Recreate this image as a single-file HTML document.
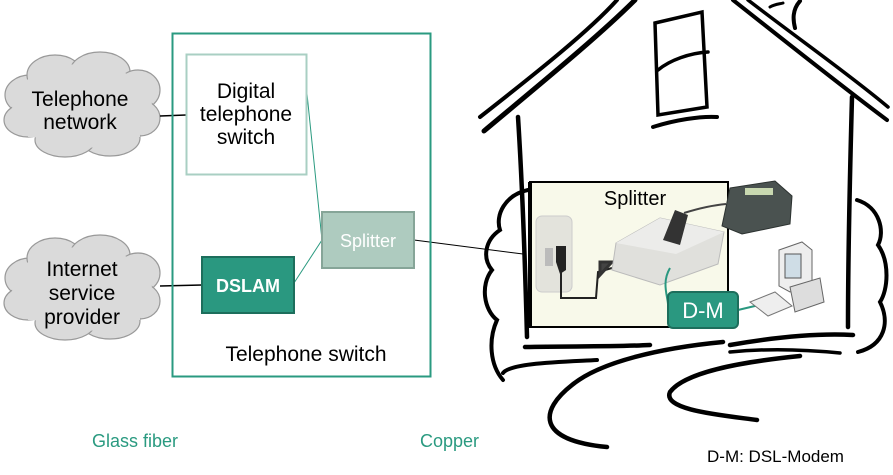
<!DOCTYPE html>
<html><head><meta charset="utf-8"><style>
html,body{margin:0;padding:0;background:#fff;}
svg{display:block;font-family:"Liberation Sans",Arial,sans-serif;}
</style></head><body>
<svg width="893" height="475" viewBox="0 0 893 475" xmlns="http://www.w3.org/2000/svg">
<!-- clouds -->
<g stroke="#999" stroke-width="1.2" fill="#dadada">
  <ellipse cx="30" cy="95" rx="25" ry="20"/><ellipse cx="55" cy="75" rx="28" ry="20"/><ellipse cx="100" cy="72" rx="30" ry="20"/><ellipse cx="138" cy="90" rx="22" ry="20"/><ellipse cx="140" cy="118" rx="20" ry="18"/><ellipse cx="110" cy="138" rx="30" ry="18"/><ellipse cx="65" cy="140" rx="30" ry="17"/><ellipse cx="28" cy="120" rx="24" ry="17"/>
</g>
<g fill="#dadada"><rect x="28" y="75" width="112" height="62"/><ellipse cx="82" cy="106" rx="70" ry="42"/></g>
<g stroke="#999" stroke-width="1.2" fill="#dadada">
  <ellipse cx="30" cy="278" rx="25" ry="20"/><ellipse cx="55" cy="258" rx="28" ry="20"/><ellipse cx="100" cy="255" rx="30" ry="20"/><ellipse cx="138" cy="273" rx="22" ry="20"/><ellipse cx="140" cy="301" rx="20" ry="18"/><ellipse cx="110" cy="321" rx="30" ry="18"/><ellipse cx="65" cy="323" rx="30" ry="17"/><ellipse cx="28" cy="303" rx="24" ry="17"/>
</g>
<g fill="#dadada"><rect x="28" y="258" width="112" height="62"/><ellipse cx="82" cy="289" rx="70" ry="42"/></g>
<g font-size="21" fill="#000" text-anchor="middle">
 <text x="80" y="106">Telephone</text><text x="80" y="129">network</text>
 <text x="82" y="276">Internet</text><text x="82" y="300">service</text><text x="82" y="324">provider</text>
</g>
<!-- connectors -->
<line x1="160" y1="116" x2="186" y2="115" stroke="#000" stroke-width="1.5"/>
<line x1="160" y1="286" x2="202" y2="285" stroke="#000" stroke-width="1.5"/>
<line x1="306" y1="84" x2="322" y2="240" stroke="#2a9a80" stroke-width="1"/>
<line x1="294" y1="283" x2="322" y2="240" stroke="#2a9a80" stroke-width="1"/>
<line x1="414" y1="240" x2="523" y2="254" stroke="#000" stroke-width="1"/>
<!-- switch box -->
<rect x="172.5" y="33.5" width="258" height="343" fill="none" stroke="#2a9a80" stroke-width="2"/>
<rect x="186.5" y="54.5" width="120" height="120" fill="#fff" stroke="#a9cfc3" stroke-width="2"/>
<g font-size="21" text-anchor="middle"><text x="246" y="98">Digital</text><text x="246" y="121">telephone</text><text x="246" y="144">switch</text></g>
<rect x="322" y="212" width="92" height="56" fill="#aecbbf" stroke="#86a598" stroke-width="2"/>
<text x="368" y="247" font-size="18" fill="#fff" text-anchor="middle">Splitter</text>
<rect x="202" y="257" width="92" height="56" fill="#2a9880" stroke="#1d6e5c" stroke-width="2"/>
<text x="248" y="292" font-size="18" font-weight="bold" fill="#fff" text-anchor="middle">DSLAM</text>
<text x="306" y="361" font-size="21" text-anchor="middle">Telephone switch</text>
<!-- house -->
<g fill="none" stroke="#000" stroke-linecap="round">
 <path d="M480,117 C540,70 590,30 617,0" stroke-width="4"/>
 <path d="M484,131 C545,80 600,35 635,0" stroke-width="5"/>
 <path d="M733,0 C790,45 840,85 887,120" stroke-width="4"/>
 <path d="M748,0 C800,40 850,75 888,107" stroke-width="3.5"/>
 <path d="M800,1 C792,10 793,20 795,28" stroke-width="4"/>
 <path d="M770,7 C775,4 780,4 783,3" stroke-width="3"/>
 <path d="M655,23 L702,12 L707,107 L658,115 Z" stroke-width="3.5"/>
 <path d="M658,70 C670,60 690,53 708,52" stroke-width="3.5"/>
 <path d="M653,127 C675,120 700,116 717,117" stroke-width="4"/>
 <path d="M518,117 C522,180 525,260 527,337" stroke-width="4.5"/>
 <path d="M852,97 C850,170 848,250 848,327" stroke-width="4.5"/>
 <path d="M528,190 C505,195 495,215 500,230 C485,240 482,258 492,270 C480,285 484,310 497,320 C488,340 490,365 503,380" stroke-width="4"/>
 <path d="M857,200 C880,207 885,232 878,245 C890,262 888,290 880,302 C890,322 885,345 858,352" stroke-width="4"/>
 <path d="M525,347 C570,346 610,347 650,345" stroke-width="4.5"/>
 <path d="M503,373 C510,363 560,362 597,360" stroke-width="4"/>
 <path d="M730,345 C770,338 815,333 853,335" stroke-width="4.5"/>
 <path d="M723,342 C660,348 600,362 572,385 C540,410 535,440 607,447" stroke-width="4.5"/>
 <path d="M800,356 C740,362 685,372 670,392 C662,410 720,415 757,420" stroke-width="4.5"/>
 <path d="M730,352 C770,348 810,350 840,353" stroke-width="3.5"/>
</g>
<!-- splitter photo -->
<rect x="530" y="182" width="198" height="145" fill="#f8f9ea" stroke="#000" stroke-width="2"/>
<line x1="530" y1="182" x2="530" y2="327" stroke="#000" stroke-width="4"/>
<text x="635" y="205" font-size="20" text-anchor="middle">Splitter</text>
<rect x="536" y="216" width="36" height="76" rx="6" fill="#e3e3dc" stroke="#ccc"/>
<rect x="545" y="248" width="8" height="18" fill="#bbb"/>
<path d="M556,246 L566,246 L566,270 L560,274 L556,262 Z" fill="#222"/>
<path d="M561,272 L561,298 L596,298 L598,272 L612,268" fill="none" stroke="#222" stroke-width="2"/>
<path d="M612,262 L600,275 L600,262 Z M610,262 L630,262" fill="#444" stroke="#333" stroke-width="3"/>
<path d="M616,243 L660,218 L724,232 L718,264 L660,285 L612,270 Z" fill="#e0e0dc" stroke="#bbb"/>
<path d="M616,243 L660,218 L724,232 L676,254 Z" fill="#ececea"/>
<path d="M663,240 L675,210 L688,215 L680,245 Z" fill="#333"/>
<path d="M684,213 C700,208 715,205 726,204" stroke="#444" stroke-width="2" fill="none"/>
<path d="M670,268 C660,285 670,300 668,310" stroke="#2a9880" stroke-width="2" fill="none"/>
<path d="M730,188 L775,181 L792,196 L790,224 L742,234 L722,226 Z" fill="#4a5250" stroke="#2c3230"/>
<rect x="745" y="188" width="28" height="7" fill="#c8d8b0"/>
<path d="M738,310 L780,300" stroke="#2a9880" stroke-width="2"/>
<path d="M779,250 L802,242 L812,250 L812,285 L790,292 L779,286 Z" fill="#eee" stroke="#666"/>
<rect x="785" y="254" width="16" height="24" fill="#cfdde6" stroke="#555"/>
<path d="M790,287 L820,278 L824,302 L795,312 Z" fill="#ddd" stroke="#666"/>
<path d="M750,302 L775,292 L792,306 L768,316 Z" fill="#eee" stroke="#777"/>
<rect x="668" y="292" width="70" height="36" rx="5" fill="#2a9880" stroke="#1d6e5c" stroke-width="2"/>
<text x="703" y="318" font-size="22" fill="#fff" text-anchor="middle">D-M</text>
<!-- labels -->
<text x="92" y="447" font-size="18" fill="#2a9a80">Glass fiber</text>
<text x="420" y="447" font-size="18" fill="#2a9a80">Copper</text>
<text x="707" y="462" font-size="17" fill="#000">D-M: DSL-Modem</text>
</svg>
</body></html>
